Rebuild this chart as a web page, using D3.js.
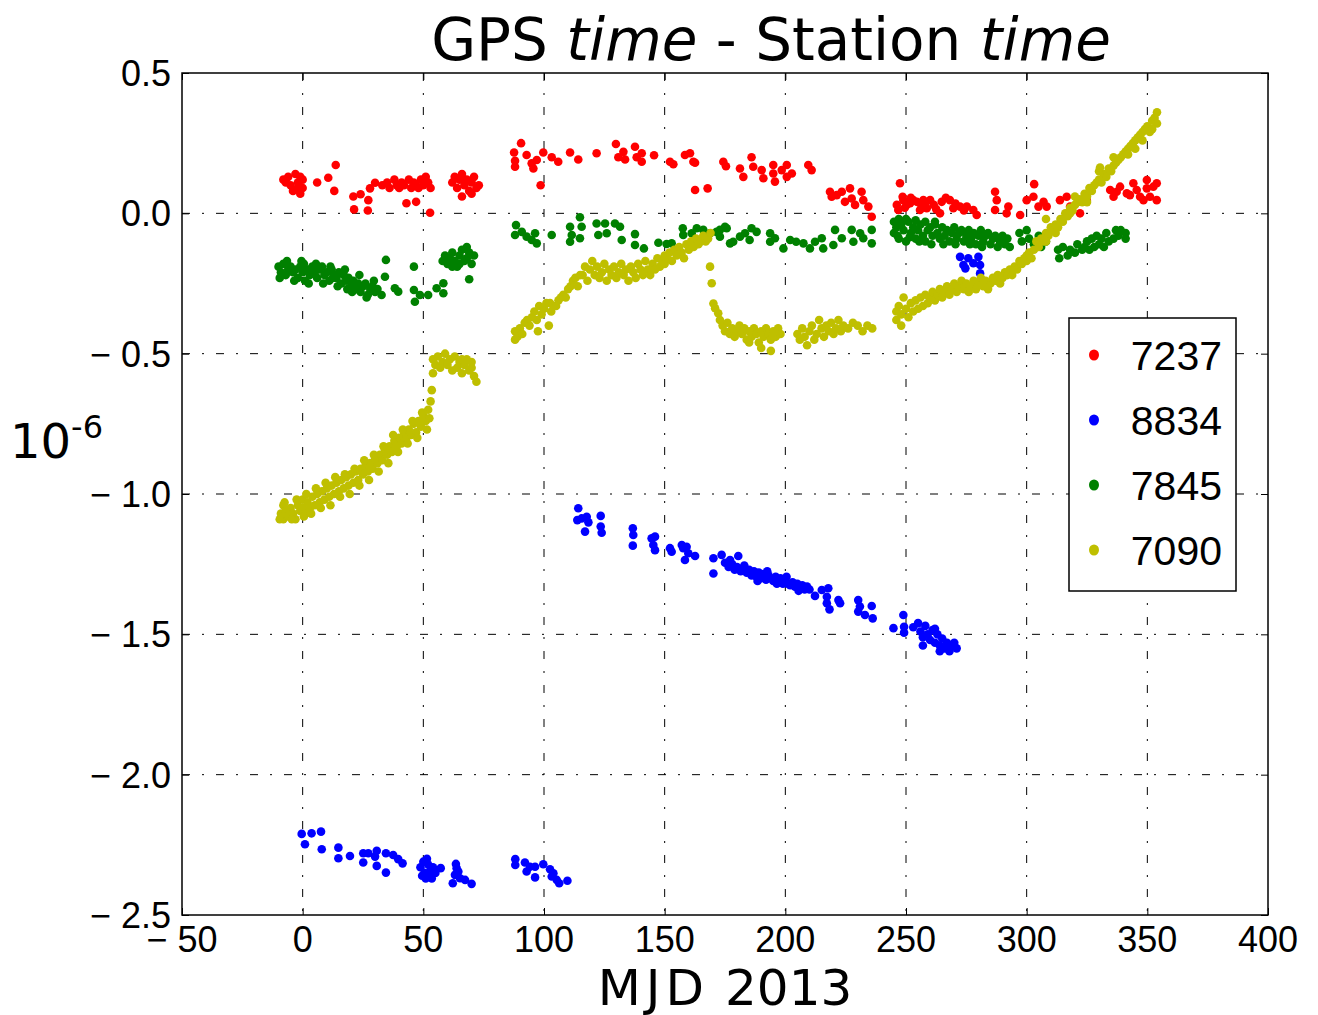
<!DOCTYPE html>
<html>
<head>
<meta charset="UTF-8">
<title>GPS time - Station time</title>
<script src="https://cdn.jsdelivr.net/npm/d3@7"></script>
<style>
    body{margin:0;background:#fff;}
    svg{display:block;}
    .tick-label{font-family:"Liberation Sans",Arial,sans-serif;font-size:36px;fill:#000;}
    .grid{stroke:#000;stroke-width:1px;stroke-dasharray:8,12,2,12;fill:none;}
    .frame{fill:none;stroke:#000;stroke-width:1.5px;}
</style>
</head>
<body>
<div id="chart"></div>
<script>
// station names (legend order) and colours
var stations=['7237','8834','7845','7090'];
var colors=['#ff0000','#0000ff','#008000','#bfbf00'];
var xTicks=[-50,0,50,100,150,200,250,300,350,400];
var yTicks=[0.5,0.0,-0.5,-1.0,-1.5,-2.0,-2.5];

// [MJD 2013 day, offset in 1e-6 s]
var s7237=[[-8,0.12],[-6,0.13],[-5,0.10],[-3,0.14],[-2,0.11],[-1,0.13],[0,0.12],[-4,0.08],[-1,0.07],[0,0.09],[-7,0.11],[-2,0.09],
[6,0.11],[10.6,0.127],[13.7,0.172],[13.1,0.08],[21,0.06],[24,0.068],[21.3,0.014],[27,0.01],[27.2,0.047],[27.9,0.089],[30,0.109],
[33,0.10],[35,0.11],[36,0.09],[38,0.12],[39,0.10],[40,0.09],[41,0.11],[42,0.10],[44,0.12],[45,0.09],[46,0.11],[47,0.10],[48,0.09],[49,0.12],[50,0.10],[52,0.11],[53,0.09],[51,0.13],
[43,0.036],[47,0.041],[52.8,0.002],
[62,0.11],[63,0.13],[64,0.09],[65,0.12],[66,0.14],[67,0.10],[68,0.12],[69,0.08],[70,0.11],[71,0.13],[72,0.09],[73,0.10],[70,0.07],[66,0.06],
[87.6,0.217],[90.5,0.25],[88,0.187],[88,0.166],[92.8,0.208],[94.9,0.178],[97,0.19],[95.6,0.16],[98.6,0.10],[99.7,0.217],[103.2,0.20],[105.9,0.184],
[110.8,0.217],[114.2,0.192],[121.8,0.214],[129.8,0.247],[130.8,0.20],[132.9,0.219],[133.6,0.192],[137.7,0.237],[138.4,0.20],[140.5,0.214],[140.5,0.184],
[145.6,0.207],[152.2,0.184],[153.6,0.175],[158.4,0.208],[160.5,0.214],[161.9,0.184],[162.6,0.083],[167.8,0.089],[162.6,0.18],
[174.3,0.184],[175.4,0.168],[181.2,0.16],[182.6,0.13],[186,0.2],[186.7,0.166],[190.2,0.154],[190.9,0.125],[195,0.172],[195,0.142],[195.7,0.113],
[198.5,0.154],[200.6,0.172],[202.7,0.142],[200.6,0.13],[209.5,0.172],[210.9,0.154],
[218.5,0.077],[219.2,0.059],[221.3,0.065],[223.4,0.077],[224.7,0.041],[226.8,0.089],[227.5,0.053],[228.9,0.03],[231.6,0.077],[232.3,0.047],[234.4,0.024],[235.8,-0.012],
[247.5,0.107],[246.2,0.03],[248.9,0.047],[251.7,0.036],[254.5,0.041],[257.2,0.047],[258.6,0.018],[246.8,0.012],
[248.6,0.059],[250.3,0.03],[253,0.047],[255.8,0.012],[257.9,0.036],[260,0.047],[264.8,0.041],[264.1,0],[268.2,0.047],[269.6,0.018],[272.4,0.024],
[275.2,0.024],[277.9,0.012],[279.3,-0.006],[286.9,0.077],[287.6,0.047],[286.9,0.012],[292.4,0.024],[291.7,0],[297.3,-0.006],[300,0.047],
[303.1,0.104],[302.8,0.059],[304.9,0.024],[307,0.041],[308.3,0.024],[313.8,0.047],[316.6,0.059],[318,0.024],[322.1,0],[324.9,0.047],
[334.6,0.083],[336,0.059],[338.7,0.095],[341.5,0.071],[344.2,0.107],[345.6,0.083],[347,0.059],[349.8,0.119],[349.8,0.089],[352.5,0.095],
[353.9,0.107],[353.9,0.047],[351.1,0.059],[348.4,0.047],[342.8,0.065],[337.3,0.077],
[249.5,0.02],[252,0.055],[256.5,0.025],[261.5,0.03],[266.5,0.055],[270.5,0.035],[274,0.01],[262.5,0.015]];

var s8834=[[-0.4,-2.211],[0.95,-2.248],[3.7,-2.209],[7.6,-2.203],[7.9,-2.266],[14.8,-2.26],[14.8,-2.298],[19.6,-2.29],[25.1,-2.28],[25.1,-2.313],
[27.2,-2.28],[30.7,-2.271],[30.7,-2.325],[30,-2.292],[34.5,-2.28],[34.5,-2.349],[37.5,-2.286],[39.6,-2.301],[41.4,-2.316],
[48.8,-2.33],[50,-2.31],[50.5,-2.35],[51,-2.37],[52,-2.32],[52.5,-2.36],[53,-2.34],[54,-2.33],[49.5,-2.36],[51.5,-2.30],[53.5,-2.37],[55,-2.35],
[57.2,-2.333],[63.5,-2.318],[63.1,-2.357],[62.2,-2.387],[64.5,-2.345],[65.2,-2.369],[67.3,-2.375],[70,-2.389],[63.8,-2.333],
[88.1,-2.301],[88.1,-2.322],[92.1,-2.313],[92.8,-2.345],[94.2,-2.328],[96.3,-2.328],[96.3,-2.366],[99.7,-2.319],[102.5,-2.337],[103.2,-2.363],
[105.3,-2.375],[106.3,-2.387],[109.7,-2.378],[103.9,-2.351],
[114.2,-1.051],[113.8,-1.093],[115.6,-1.087],[117.7,-1.081],[118.4,-1.101],[117,-1.134],[123.5,-1.078],[123.5,-1.116],[123.9,-1.138],
[136.8,-1.122],[137,-1.146],[136.8,-1.184],[144.6,-1.158],[146,-1.152],[145.3,-1.182],[146,-1.2],
[152.2,-1.193],[152.9,-1.206],[157.1,-1.182],[157.7,-1.193],[159.1,-1.188],[159.8,-1.211],[158.4,-1.235],[162.6,-1.221],
[170.2,-1.229],[173.6,-1.217],[170.2,-1.283],[177.1,-1.235],[180.5,-1.221],
[175,-1.245],[176.5,-1.26],[178,-1.25],[179,-1.27],[180,-1.26],[181.5,-1.275],[182.5,-1.265],[184,-1.28],[185,-1.27],[186,-1.29],[187,-1.275],
[188,-1.295],[189,-1.28],[190,-1.3],[191,-1.285],[192,-1.305],[193,-1.29],[194,-1.3],[195,-1.31],[196,-1.295],[197,-1.315],[198,-1.3],
[199,-1.32],[200,-1.31],[201,-1.32],[202,-1.325],[203,-1.315],[204,-1.33],[205,-1.32],[206,-1.335],[207,-1.325],[208,-1.34],[209,-1.33],[210,-1.34],
[183,-1.255],[188.5,-1.31],[192.5,-1.275],[196.5,-1.32],[200.5,-1.295],[205.5,-1.345],
[212.3,-1.363],[215.1,-1.342],[217.2,-1.366],[217.8,-1.336],[217.2,-1.389],[218.3,-1.411],[222,-1.378],[222.7,-1.389],
[230.2,-1.378],[230.2,-1.419],[233,-1.431],[235.8,-1.399],[236.2,-1.443],[230.9,-1.401],
[244.8,-1.478],[248.9,-1.431],[249.2,-1.473],[249.2,-1.494],
[253,-1.475],[255,-1.46],[256,-1.49],[257,-1.51],[258,-1.47],[259,-1.50],[260,-1.52],[261,-1.485],[262,-1.53],[263,-1.50],[264,-1.54],
[265,-1.515],[266,-1.55],[267,-1.53],[268,-1.56],[269,-1.54],[270,-1.53],[271,-1.55],[264,-1.56],[257,-1.54],[262,-1.48],
[272.4,-0.155],[275.8,-0.16],[273.8,-0.184],[274.6,-0.196],[280,-0.155],[280.7,-0.184],[280.7,-0.214],[277.9,-0.178]];

var s7845=[[-10,-0.19],[-9,-0.21],[-8,-0.18],[-7,-0.22],[-6,-0.20],[-5,-0.19],[-4,-0.21],[-3,-0.2],[-2,-0.23],[-1,-0.19],[0,-0.21],[0.5,-0.18],
[1,-0.24],[2,-0.2],[3,-0.22],[4,-0.19],[5,-0.21],[6,-0.23],[7,-0.2],[8,-0.19],[9,-0.22],[10,-0.21],[11,-0.24],[12,-0.2],[13,-0.22],[14,-0.23],
[15,-0.21],[16,-0.25],[17,-0.22],[18,-0.24],[19,-0.23],[20,-0.26],[21,-0.24],[22,-0.27],[23,-0.25],[24,-0.28],[25,-0.26],[26,-0.25],[27,-0.29],
[28,-0.27],[29,-0.26],[30,-0.28],[31,-0.27],
[-9.5,-0.23],[-6.5,-0.17],[-3.5,-0.24],[-0.5,-0.17],[2.5,-0.25],[5.5,-0.18],[8.5,-0.25],[11.5,-0.19],[14.5,-0.26],[17.5,-0.2],[20.5,-0.28],
[23.5,-0.22],[26.5,-0.3],[29.5,-0.24],[12.5,-0.23],[18.5,-0.27],
[34.5,-0.166],[34.1,-0.226],[32.7,-0.291],[38.2,-0.267],[39.6,-0.279],[46.1,-0.19],[46.1,-0.273],[46.5,-0.315],[48.6,-0.291],[52,-0.291],
[55.5,-0.267],[58.3,-0.249],[58.3,-0.285],[69,-0.235],
[58,-0.17],[59,-0.15],[60,-0.18],[61,-0.16],[62,-0.14],[63,-0.17],[64,-0.19],[65,-0.15],[66,-0.13],[67,-0.17],[68,-0.16],[69,-0.14],[70,-0.18],
[71,-0.15],[65,-0.18],[62,-0.19],[68,-0.12],
[88.4,-0.042],[88,-0.077],[90.8,-0.066],[92.8,-0.083],[94.9,-0.095],[97,-0.107],[96.3,-0.071],[103.2,-0.077],[110.8,-0.048],[111.5,-0.077],
[110.8,-0.101],[114.9,-0.014],[115.6,-0.048],[114.9,-0.089],[121.8,-0.036],[122.5,-0.077],[125.3,-0.036],[126,-0.071],[129.4,-0.036],
[131.5,-0.048],[132.2,-0.095],[137.7,-0.074],[137.7,-0.113],[141.4,-0.125],[147.4,-0.105],[150.8,-0.109],[152.9,-0.107],[157.5,-0.053],
[157.7,-0.077],[161.2,-0.071],[166,-0.059],[168.8,-0.071],[172.9,-0.059],[175.7,-0.053],[177.1,-0.107],
[163.3,-0.053],[166.7,-0.071],[171.5,-0.066],[172.9,-0.083],[175,-0.048],[178.4,-0.101],[181.2,-0.083],[183.3,-0.071],[186,-0.053],
[188.1,-0.066],[185.2,-0.095],[193.7,-0.071],[193.7,-0.101],[195.7,-0.089],[199.2,-0.125],[202,-0.095],[204.5,-0.101],[207.5,-0.107],
[210.2,-0.125],[212.3,-0.101],[215.1,-0.089],[215.7,-0.125],[220.6,-0.059],[219.9,-0.113],[223.4,-0.089],[227.5,-0.059],[228.2,-0.101],
[231,-0.071],[232.3,-0.089],[235.8,-0.059],[235.8,-0.107],
[245,-0.03],[245,-0.07],[246,-0.05],[247,-0.09],[248,-0.04],[249,-0.06],[250,-0.1],[251,-0.03],[252,-0.07],[253,-0.05],[254,-0.09],[255,-0.06],
[256,-0.04],[257,-0.08],[258,-0.1],[259,-0.06],[260,-0.05],[261,-0.08],[262,-0.04],[263,-0.07],[264,-0.09],[265,-0.05],[266,-0.08],[267,-0.06],
[268,-0.1],[269,-0.07],[270,-0.05],[271,-0.09],[272,-0.07],[273,-0.06],[274,-0.1],[275,-0.08],[276,-0.06],[277,-0.09],[278,-0.07],[279,-0.11],
[280,-0.08],[281,-0.06],[282,-0.1],[283,-0.08],[284,-0.07],[285,-0.11],[286,-0.09],[287,-0.08],[288,-0.12],[289,-0.1],[290,-0.08],[291,-0.11],
[292,-0.09],[293,-0.12],[247,-0.02],[250,-0.02],[254,-0.025],[258,-0.03],[262,-0.03],
[246.5,-0.08],[251.5,-0.085],[255.5,-0.1],[260.5,-0.11],[265.5,-0.11],[270.5,-0.11],[276.5,-0.11],[281.5,-0.12],
[297,-0.07],[298,-0.1],[300,-0.06],[301,-0.09],[303,-0.11],[305,-0.08],[306,-0.12],[308,-0.1],
[313,-0.13],[313.5,-0.16],[315,-0.12],[317,-0.15],[318,-0.13],[320,-0.14],[321,-0.11],[323,-0.13],[324,-0.12],[325,-0.1],[326,-0.13],[327,-0.09],
[328,-0.12],[329,-0.08],[330,-0.11],[331,-0.09],[332,-0.12],[333,-0.07],[334,-0.1],[336,-0.09],[337,-0.06],[338,-0.08],[339,-0.06],[341,-0.07],[341,-0.09]];

var s7090=[[-9,-1.07],[-8,-1.09],[-8,-1.04],[-7,-1.06],[-6,-1.08],[-5,-1.05],[-4,-1.07],[-3,-1.09],[-2,-1.04],[-1,-1.06],[0,-1.02],[0,-1.05],
[1,-1.07],[2,-1.03],[3,-1.05],[4,-1.01],[5,-1.04],[6,-1.0],[7,-1.03],[8,-0.99],[9,-1.02],[10,-0.98],[11,-1.01],[12,-0.97],[13,-1.0],[14,-0.96],
[15,-0.99],[16,-0.95],[17,-0.98],[18,-0.94],[19,-0.97],[20,-0.93],[21,-0.96],[22,-0.92],[23,-0.95],[24,-0.91],[25,-0.93],[26,-0.9],[27,-0.92],
[28,-0.89],[29,-0.91],[30,-0.87],[31,-0.89],[32,-0.86],[33,-0.88],[34,-0.84],[35,-0.86],[36,-0.83],[37,-0.85],[38,-0.81],[39,-0.83],[40,-0.8],
[41,-0.82],[42,-0.78],[43,-0.8],[44,-0.77],[45,-0.79],[46,-0.75],[47,-0.78],[48,-0.74],[49,-0.76],[50,-0.72],[51,-0.74],[52,-0.7],[53,-0.67],[53.5,-0.63],
[-9.5,-1.09],[-7.5,-1.03],[-4.5,-1.09],[-2.5,-1.02],[0.5,-1.08],[1.5,-1.0],[3.5,-1.07],[5.5,-0.98],[7.5,-1.05],[9.5,-0.96],[11.5,-1.04],
[13.5,-0.94],[15.5,-1.01],[17.5,-0.93],[19.5,-1.0],[21.5,-0.91],[23.5,-0.97],[25.5,-0.88],[27.5,-0.95],[29.5,-0.86],[31.5,-0.92],[33.5,-0.83],
[35.5,-0.89],[37.5,-0.79],[39.5,-0.85],[41.5,-0.77],[43.5,-0.82],[45.5,-0.74],[47.5,-0.8],[49.5,-0.71],[51.5,-0.77],[52.5,-0.73],
[54,-0.52],[54,-0.57],[55,-0.54],[56,-0.51],[57,-0.55],[58,-0.53],[59,-0.5],[60,-0.54],[61,-0.52],[62,-0.56],[63,-0.51],[64,-0.55],[65,-0.53],
[66,-0.57],[67,-0.54],[68,-0.52],[69,-0.56],[70,-0.55],[71,-0.58],[72,-0.6],[70,-0.53],[66,-0.52],
[88,-0.45],[88,-0.42],[89,-0.44],[90,-0.41],[91,-0.43],[92,-0.39],[93,-0.38],[94,-0.4],[95,-0.37],[96,-0.35],[97,-0.38],[97.5,-0.42],[98,-0.33],
[99,-0.36],[100,-0.34],[101,-0.32],[102,-0.4],[102.5,-0.32],[103,-0.35],[104,-0.33],[105,-0.33],[106,-0.31],[107,-0.3],[108,-0.29],[109,-0.3],
[110,-0.27],[111,-0.26],[112,-0.24],[113,-0.23],[114,-0.26],[115,-0.22],
[116,-0.22],[117,-0.19],[118,-0.24],[119,-0.2],[120,-0.17],[121,-0.22],[122,-0.19],[123,-0.23],[124,-0.21],[125,-0.18],[126,-0.24],[127,-0.2],
[128,-0.22],[129,-0.19],[130,-0.23],[131,-0.21],[132,-0.18],[133,-0.22],[134,-0.2],[135,-0.24],[136,-0.19],[137,-0.21],[138,-0.23],[139,-0.18],
[140,-0.2],[141,-0.22],[142,-0.17],[143,-0.2],[144,-0.22],[145,-0.18],[146,-0.2],[147,-0.16],[148,-0.19],[149,-0.17],[150,-0.15],
[150,-0.18],[151,-0.16],[152,-0.14],[153,-0.17],[154,-0.13],[155,-0.15],[156,-0.12],[157,-0.14],[158,-0.16],[159,-0.11],[160,-0.13],[161,-0.1],
[162,-0.12],[163,-0.09],[164,-0.11],[165,-0.1],[166,-0.08],[167,-0.1],[168,-0.09],[169,-0.07],
[168.8,-0.19],[169.5,-0.249],[170.2,-0.321],[170.9,-0.338],[172.2,-0.356],[172.9,-0.38],
[174,-0.4],[175,-0.42],[176,-0.39],[177,-0.43],[178,-0.41],[179,-0.44],[180,-0.42],[181,-0.4],[182,-0.43],[183,-0.41],[184,-0.45],[185,-0.42],
[186,-0.44],[187,-0.41],[188,-0.43],[189,-0.46],[190,-0.42],[191,-0.44],[192,-0.41],[193,-0.43],[194,-0.45],[195,-0.42],[196,-0.44],[197,-0.41],
[198,-0.43],[190,-0.48],[185,-0.46],[194,-0.49],
[205,-0.43],[206,-0.45],[207,-0.41],[208,-0.44],[209,-0.47],[210,-0.42],[211,-0.4],[212,-0.45],[213,-0.43],[214,-0.38],[215,-0.41],[216,-0.44],
[217,-0.4],[218,-0.42],[219,-0.39],[220,-0.43],[221,-0.41],[222,-0.38],[223,-0.42],[224,-0.4],[226,-0.41],[228,-0.39],[230,-0.4],[232,-0.42],
[234,-0.4],[236,-0.41],
[246,-0.35],[246,-0.38],[247,-0.33],[248,-0.36],[248,-0.4],[249,-0.3],[250,-0.34],[251,-0.37],[252,-0.32],[253,-0.35],[254,-0.31],[255,-0.34],
[256,-0.3],[257,-0.33],[258,-0.29],[259,-0.32],[260,-0.3],[261,-0.28],[262,-0.31],[263,-0.29],[264,-0.27],[265,-0.3],[266,-0.28],[267,-0.26],
[268,-0.29],[269,-0.27],[270,-0.25],[271,-0.28],[272,-0.26],[273,-0.24],[274,-0.27],[275,-0.25],[276,-0.28],[277,-0.26],[278,-0.24],[279,-0.27],
[280,-0.25],[281,-0.23],[282,-0.26],[283,-0.24],[284,-0.27],[285,-0.25],[286,-0.23],[287,-0.24],[288,-0.22],[289,-0.25],[290,-0.23],[291,-0.21],
[292,-0.22],[293,-0.2],[294,-0.22],[295,-0.19],[296,-0.2],[297,-0.17],[298,-0.18],[299,-0.16],[300,-0.17],
[300,-0.15],[301,-0.14],[302,-0.16],[303,-0.13],[304,-0.1],[305,-0.12],[306,-0.09],[307,-0.1],[308,-0.07],[309,-0.08],[310,-0.05],[311,-0.06],
[312,-0.04],[313,-0.05],[314,-0.02],[315,-0.03],[316,0.0],[317,-0.01],[318,0.02],[319,0.01],[320,0.03],[321,0.04],[322,0.05],[323,0.04],
[324,0.07],[325,0.06],[326,0.09],[327,0.08],[328,0.1],[329,0.11],[330,0.12],[331,0.11],[332,0.14],[333,0.13],[334,0.16],[335,0.15],[336,0.17],
[337,0.18],[338,0.19],[339,0.2],[340,0.21],[341,0.22],[342,0.23],[343,0.24],[344,0.25],[345,0.26],[346,0.27],[347,0.28],[348,0.29],[349,0.3],
[350,0.31],[351,0.29],[352,0.33],[353,0.34],[354,0.36],[354,0.32],[312,-0.07],[318,0.0],[325,0.04],[330,0.15],[336,0.2],[342,0.21],[348,0.26],
[352,0.3],[308,-0.1],[320,0.06],[345,0.23],[308,-0.02],[330.4,0.163]];

var series=[s7237,s8834,s7845,s7090];

var width=1318,height=1015;
var margin={left:182,right:50,top:73,bottom:100};
var plotW=width-margin.left-margin.right,plotH=height-margin.top-margin.bottom;

var x=d3.scaleLinear().domain([-50,400]).range([0,plotW]);
var y=d3.scaleLinear().domain([-2.5,0.5]).range([plotH,0]);

var svg=d3.select('#chart').append('svg')
        .attr('width',width)
        .attr('height',height);
var g=svg.append('g').attr('transform','translate('+margin.left+','+margin.top+')');

function fmt(v){
    var s=Math.abs(v)<1e-9?'0.0':d3.format('.1f')(Math.abs(v));
    return v<0?'\u2212 '+s:s;
}
function fmtX(v){
    return v<0?'\u2212 '+Math.abs(v):''+v;
}

// grid
g.selectAll('.gx').data(xTicks.slice(1,-1)).enter().append('line')
        .attr('class','grid')
        .attr('x1',function(d){return x(d)}).attr('x2',function(d){return x(d)})
        .attr('y1',0).attr('y2',plotH);
g.selectAll('.gy').data(yTicks.slice(1,-1)).enter().append('line')
        .attr('class','grid')
        .attr('x1',0).attr('x2',plotW)
        .attr('y1',function(d){return y(d)}).attr('y2',function(d){return y(d)});

// points
series.forEach(function(s,i){
    g.append('g').selectAll('circle')
            .data(s)
            .enter()
            .append('circle')
            .attr('cx',function(d){return x(d[0])})
            .attr('cy',function(d){return y(d[1])})
            .attr('r',4.3)
            .style('fill',colors[i]);
});

// inward ticks on all sides
g.append('g').attr('transform','translate(0,'+plotH+')').call(d3.axisBottom(x).tickValues(xTicks).tickSize(-7).tickFormat(''));
g.append('g').call(d3.axisTop(x).tickValues(xTicks).tickSize(-7).tickFormat(''));
g.append('g').call(d3.axisLeft(y).tickValues(yTicks).tickSize(-7).tickFormat(''));
g.append('g').attr('transform','translate('+plotW+',0)').call(d3.axisRight(y).tickValues(yTicks).tickSize(-7).tickFormat(''));
g.selectAll('.domain').remove();
g.selectAll('.tick line').style('stroke','#000');

g.append('rect').attr('class','frame').attr('x',0).attr('y',0).attr('width',plotW).attr('height',plotH);

// tick labels
g.selectAll('.xl').data(xTicks).enter().append('text')
        .attr('class','tick-label')
        .attr('x',function(d){return x(d)})
        .attr('y',plotH+37)
        .attr('text-anchor','middle')
        .text(fmtX);
g.selectAll('.yl').data(yTicks).enter().append('text')
        .attr('class','tick-label')
        .attr('x',-11)
        .attr('y',function(d){return y(d)+13})
        .attr('text-anchor','end')
        .text(fmt);

// title
var title=svg.append('text')
        .attr('x',771).attr('y',60)
        .attr('text-anchor','middle')
        .style('font-family','DejaVu Sans')
        .style('font-size','58px');
title.append('tspan').text('GPS ');
title.append('tspan').style('font-style','italic').text('time');
title.append('tspan').text(' - Station ');
title.append('tspan').style('font-style','italic').text('time');

// axis labels
var xl=svg.append('text')
        .attr('x',725).attr('y',1005)
        .attr('text-anchor','middle')
        .style('font-family','DejaVu Sans')
        .style('font-size','50px');
xl.append('tspan').style('letter-spacing','5px').text('MJD');
xl.append('tspan').text(' 2013');
var yl=svg.append('text')
        .attr('x',10).attr('y',458)
        .style('font-family','DejaVu Sans')
        .style('font-size','48px');
yl.append('tspan').text('10');
yl.append('tspan').attr('dy',-20).style('font-size','32px').text('-6');

// legend
var lg=svg.append('g').attr('transform','translate(1069,318)');
lg.append('rect').attr('width',167).attr('height',273)
        .style('fill','#fff').style('stroke','#000').style('stroke-width',1.5);
stations.forEach(function(name,i){
    lg.append('ellipse')
            .attr('cx',25).attr('cy',37+i*65)
            .attr('rx',5).attr('ry',5.5)
            .style('fill',colors[i]);
    lg.append('text')
            .attr('class','tick-label')
            .attr('x',153).attr('y',52+i*65)
            .attr('text-anchor','end')
            .style('font-size','41px')
            .text(name);
});
</script>
</body>
</html>
